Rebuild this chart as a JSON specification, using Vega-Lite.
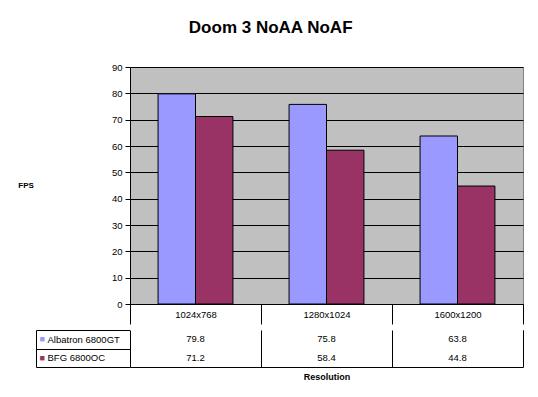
{
  "$schema": "https://vega.github.io/schema/vega-lite/v6.json",
  "background": "white",
  "padding": {"left": 17, "top": 18, "right": 10, "bottom": 5},
  "title": {"text": "Doom 3 NoAA NoAF", "fontSize": 17, "font": "Liberation Sans", "fontWeight": "bold", "anchor": "middle", "offset": 25, "color": "black"},
  "data": {"values": [
    {"res": "1024x768", "series": "Albatron 6800GT", "fps": 79.8},
    {"res": "1280x1024", "series": "Albatron 6800GT", "fps": 75.8},
    {"res": "1600x1200", "series": "Albatron 6800GT", "fps": 63.8},
    {"res": "1024x768", "series": "BFG 6800OC", "fps": 71.2},
    {"res": "1280x1024", "series": "BFG 6800OC", "fps": 58.4},
    {"res": "1600x1200", "series": "BFG 6800OC", "fps": 44.8}
  ]},
  "spacing": 0,
  "vconcat": [
    {
      "width": 393,
      "height": 237,
      "view": {"fill": "#C0C0C0", "stroke": "#808080"},
      "mark": {"type": "bar", "stroke": "black", "strokeWidth": 1},
      "encoding": {
        "x": {"field": "res", "type": "nominal", "sort": ["1024x768", "1280x1024", "1600x1200"],
          "scale": {"paddingInner": 0, "paddingOuter": 0},
          "axis": {"title": null, "orient": "bottom", "tickBand": "extent", "tickSize": 20, "tickColor": "black", "domainColor": "black", "labelAngle": 0, "labelPadding": -15, "labelFontSize": 9.5, "labelColor": "black", "labelFont": "Liberation Sans", "grid": false}},
        "xOffset": {"field": "series", "type": "nominal", "sort": ["Albatron 6800GT", "BFG 6800OC"], "scale": {"paddingOuter": 0.75, "paddingInner": 0}},
        "y": {"field": "fps", "type": "quantitative", "scale": {"domain": [0, 90], "nice": false},
          "axis": {"values": [0, 10, 20, 30, 40, 50, 60, 70, 80, 90], "title": "FPS", "titleAngle": 0, "titleAlign": "right", "titleBaseline": "middle", "titleFontSize": 8, "titleFont": "Liberation Sans", "titleFontWeight": "bold", "titleColor": "black", "titlePadding": 78, "grid": true, "gridColor": "black", "gridOpacity": 1, "tickSize": 5, "tickColor": "black", "domainColor": "black", "labelPadding": 3, "labelFontSize": 9.5, "labelColor": "black", "labelFont": "Liberation Sans"}},
        "color": {"field": "series", "type": "nominal", "scale": {"domain": ["Albatron 6800GT", "BFG 6800OC"], "range": ["#9999FF", "#993366"]}, "legend": null}
      }
    },
    {
      "width": 393,
      "height": 37,
      "view": {"stroke": null},
      "layer": [
        {
          "mark": {"type": "rect", "fill": "white"},
          "encoding": {
            "x": {"field": "res", "type": "nominal", "sort": ["1024x768", "1280x1024", "1600x1200"]},
            "y": {"field": "series", "type": "nominal", "sort": ["Albatron 6800GT", "BFG 6800OC"],
              "axis": {"orient": "left", "offset": 94, "domain": false, "ticks": false, "grid": false, "title": null, "labelExpr": "'■'", "labelColor": {"condition": {"test": "datum.value === 'Albatron 6800GT'", "value": "#9999FF"}, "value": "#993366"}, "labelAlign": "left", "labelBaseline": "middle", "labelPadding": -3, "labelFontSize": 9}}
          }
        },
        {
          "mark": {"type": "text", "fontSize": 9.5, "font": "Liberation Sans", "color": "black"},
          "encoding": {
            "x": {"field": "res", "type": "nominal", "sort": ["1024x768", "1280x1024", "1600x1200"],
              "axis": {"orient": "bottom", "grid": true, "gridColor": "black", "gridOpacity": 1, "tickBand": "extent", "labels": false, "ticks": false, "domain": false, "title": "Resolution", "titleFontSize": 9, "titleFont": "Liberation Sans", "titleFontWeight": "bold", "titleColor": "black", "titlePadding": 5}},
            "y": {"field": "series", "type": "nominal", "sort": ["Albatron 6800GT", "BFG 6800OC"],
              "axis": {"orient": "left", "offset": 94, "title": null, "domainColor": "black", "tickBand": "extent", "tickSize": -94, "tickColor": "black", "grid": true, "gridColor": "black", "gridOpacity": 1, "labelAlign": "left", "labelBaseline": "middle", "labelPadding": 83, "labelFontSize": 9.5, "labelColor": "black", "labelFont": "Liberation Sans"}},
            "text": {"field": "fps", "type": "quantitative", "format": ".1f"}
          }
        }
      ],
      "resolve": {"scale": {"y": "independent"}, "axis": {"y": "independent"}}
    }
  ]
}
